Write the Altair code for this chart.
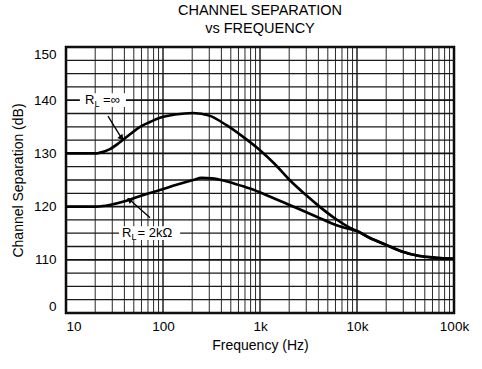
import altair as alt
import pandas as pd

# ---- data ----
freq_inf = [10, 15, 20, 22, 28.4, 36, 45.7, 57.9, 73.4, 93, 133, 205, 300, 452, 670, 1000, 1420,
            2020, 2880, 4170, 5900, 8500, 10000, 13600, 20000, 29500, 44000, 65000, 100000]
sep_inf = [130, 130, 130, 130.1, 130.8, 132.1, 133.6, 135.0, 135.9, 136.7, 137.3, 137.6, 137.1, 135.3, 133.1, 130.6, 128.0,
           125.0, 122.4, 119.9, 117.8, 116.0, 115.4, 114.1, 112.8, 111.5, 110.7, 110.4, 110.2]

freq_2k = [10, 15, 20, 24, 28, 42, 63, 93, 138, 205, 250, 320, 420, 550, 790, 1260,
           2020, 3830, 6140, 9100, 10000, 13600, 20000, 29500, 44000, 65000, 100000]
sep_2k = [120, 120, 120, 120.1, 120.3, 121.1, 122.2, 123.1, 124.1, 125.0, 125.4, 125.3, 124.9, 124.3, 123.4, 121.9,
          120.3, 118.1, 116.5, 115.6, 115.4, 114.1, 112.8, 111.5, 110.7, 110.4, 110.2]

# grid / tick positions
x_minor = [m * 10 ** e for e in range(1, 5) for m in range(2, 10)]
x_major = [10, 100, 1000, 10000, 100000]
y_minor = [102.5, 105.0, 107.5, 112.5, 115.0, 117.5, 122.5, 125.0, 127.5, 132.5, 135.0, 137.5, 142.5, 145.0, 147.5]
y_major = [100, 110, 120, 130, 140, 150]

# annotations (anchored in data coordinates)
lab_text = ["R", "=\u221e", "R", "= 2k\u03a9"]
lab_freq = [15.7, 24.1, 37.8, 54.6]
lab_sep = [140, 140, 115, 115]
sub_text = ["L", "L"]
sub_freq = [19.7, 47.3]
sub_sep = [140, 115]
box_f0 = [13.9, 35.2]
box_f1 = [41.5, 150.0]
box_v0 = [138.7, 113.7]
box_v1 = [141.3, 116.3]
arr_f0 = [27.1, 73.5]
arr_v0 = [137.0, 117.9]
arr_f1 = [37.0, 46.0]
arr_v1 = [133.0, 121.2]
arr_ang = [140, 309]

FONT = "Liberation Sans"

curves = pd.concat([
    pd.DataFrame({"f": freq_inf, "v": sep_inf, "s": "inf"}),
    pd.DataFrame({"f": freq_2k, "v": sep_2k, "s": "2k"}),
])
labels = pd.DataFrame({"f": lab_freq, "v": lab_sep, "t": lab_text})
subs = pd.DataFrame({"f": sub_freq, "v": sub_sep, "t": sub_text})
boxes = pd.DataFrame({"f": box_f0, "f2": box_f1, "v": box_v0, "v2": box_v1})
arrows = pd.DataFrame({"f": arr_f0, "v": arr_v0, "f2": arr_f1, "v2": arr_v1})
heads = pd.DataFrame({"f": arr_f1, "v": arr_v1, "a": arr_ang})

xscale = alt.Scale(type="log", domain=[10, 100000], nice=False)
yscale = alt.Scale(domain=[100, 150], nice=False, zero=False)

x_label_expr = ("datum.value == 10 ? '10' : datum.value == 100 ? '100' : datum.value == 1000 ? '1k' : "
                "datum.value == 10000 ? '10k' : datum.value == 100000 ? '100k' : ''")

xaxis = alt.Axis(
    values=x_major, labelExpr=x_label_expr, title="Frequency (Hz)", ticks=False, domain=False,
    grid=False, labelOverlap=False, labelFlush=False,
    labelAlign={"condition": {"test": "datum.value == 10", "value": "left"}, "value": "center"},
    labelPadding=6, titlePadding=6, labelFontSize=13.5, titleFontSize=14,
)
yaxis = alt.Axis(
    values=y_major,
    labelExpr="datum.value == 100 ? '0' : datum.label",
    title="Channel Separation (dB)", ticks=False, domain=False, grid=False,
    labelOverlap=False, labelFlush=True, labelPadding=10, titlePadding=8,
    labelFontSize=13.5, titleFontSize=14,
)

vminor = alt.Chart(pd.DataFrame({"f": x_minor})).mark_rule(color="#111111", strokeWidth=0.9).encode(
    x=alt.X("f:Q", scale=xscale, axis=xaxis),
)
vmajor = alt.Chart(pd.DataFrame({"f": x_major})).mark_rule(color="#111111", strokeWidth=1.4).encode(
    x=alt.X("f:Q", scale=xscale),
)
hmajor = alt.Chart(pd.DataFrame({"v": y_major})).mark_rule(color="#111111", strokeWidth=1.8).encode(
    y=alt.Y("v:Q", scale=yscale, axis=yaxis),
)
hminor = alt.Chart(pd.DataFrame({"gy": y_minor})).mark_rule(color="#1a1a1a", strokeWidth=1.3).encode(
    y=alt.Y("gy:Q", scale=yscale, title="Channel Separation (dB)"),
)

box_layer = alt.Chart(boxes).mark_rect(color="white").encode(
    x=alt.X("f:Q", scale=xscale), x2="f2:Q",
    y=alt.Y("v:Q", scale=yscale), y2="v2:Q",
)

curve_layer = alt.Chart(curves).mark_line(color="black", strokeWidth=2.6, interpolate="monotone").encode(
    x=alt.X("f:Q", scale=xscale, title="Frequency (Hz)"),
    y=alt.Y("v:Q", scale=yscale, title="Channel Separation (dB)"),
    detail="s:N",
)

arrow_layer = alt.Chart(arrows).mark_rule(color="black", strokeWidth=1.3).encode(
    x=alt.X("f:Q", scale=xscale), x2="f2:Q",
    y=alt.Y("v:Q", scale=yscale), y2="v2:Q",
)

head_layer = alt.Chart(heads).mark_point(shape="triangle", filled=True, color="black", size=45, opacity=1).encode(
    x=alt.X("f:Q", scale=xscale),
    y=alt.Y("v:Q", scale=yscale),
    angle=alt.Angle("a:Q", scale=None),
)

text_layer = alt.Chart(labels).mark_text(align="left", baseline="middle", fontSize=13, font=FONT, color="black").encode(
    x=alt.X("f:Q", scale=xscale),
    y=alt.Y("v:Q", scale=yscale),
    text="t:N",
)

sub_layer = alt.Chart(subs).mark_text(align="left", baseline="middle", fontSize=9, dy=4, font=FONT, color="black").encode(
    x=alt.X("f:Q", scale=xscale),
    y=alt.Y("v:Q", scale=yscale),
    text="t:N",
)

chart = alt.layer(vminor, vmajor, hmajor, hminor, box_layer, curve_layer, arrow_layer, head_layer,
                  text_layer, sub_layer).properties(
    width=388, height=266,
    title=alt.TitleParams(
        text=["CHANNEL SEPARATION", "vs FREQUENCY"], fontSize=14.5, font=FONT, fontWeight="normal",
        anchor="middle", offset=10, lineHeight=18, color="black",
    ),
    autosize=alt.AutoSizeParams(type="none"),
    padding={"left": 66, "top": 47, "right": 28, "bottom": 56},
    background="white",
).configure_view(
    stroke="black", strokeWidth=2.5
).configure_axis(
    labelFont=FONT, titleFont=FONT, labelColor="black", titleColor="black", titleFontWeight="normal",
)

chart.save("out.html", embed_options={"renderer": "svg", "actions": False})
